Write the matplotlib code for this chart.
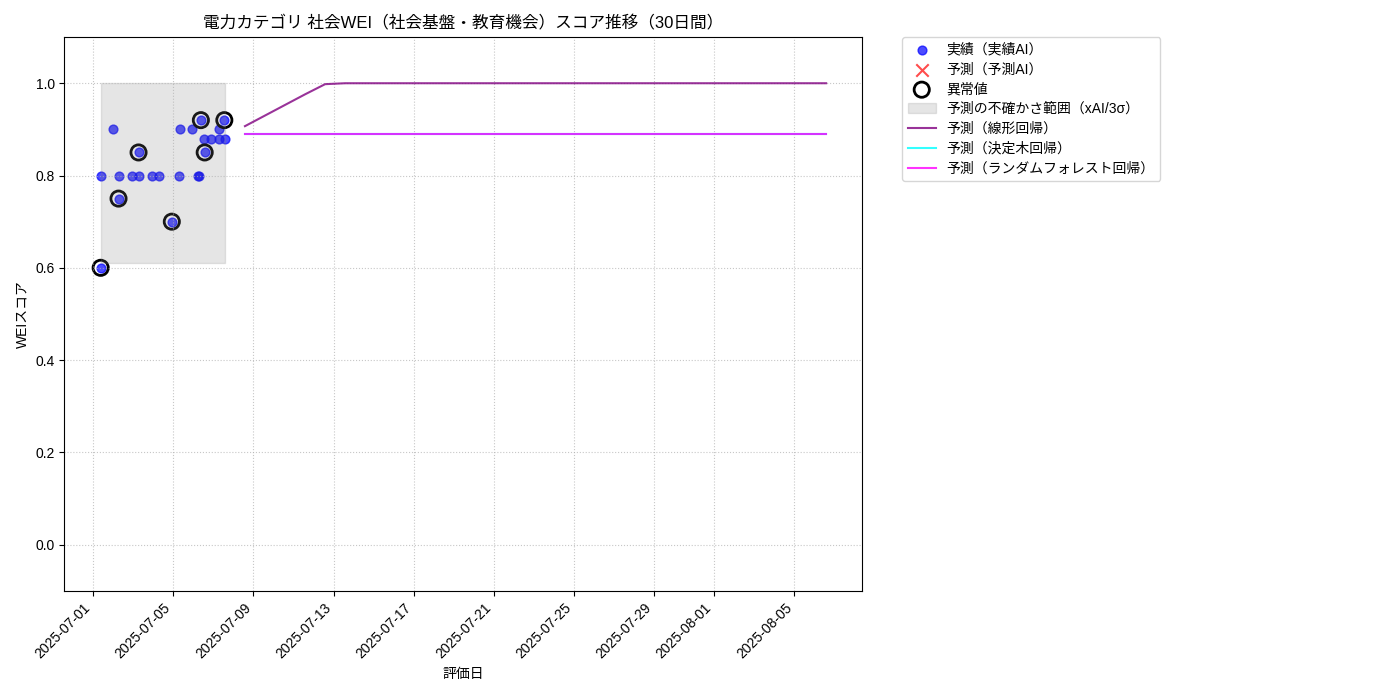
import matplotlib
matplotlib.use('Agg')
import matplotlib.pyplot as plt
import matplotlib.dates as mdates
import pandas as pd

plt.rcParams['font.family'] = ['Liberation Sans', 'Noto Sans CJK JP', 'DejaVu Sans']

# 実績データ
actual_dates = ['2025-07-01 09:07', '2025-07-01 10:05', '2025-07-01 23:17', '2025-07-02 06:29',
                '2025-07-02 06:30', '2025-07-02 22:48', '2025-07-03 06:29', '2025-07-03 06:43',
                '2025-07-03 22:19', '2025-07-04 06:29', '2025-07-04 22:19', '2025-07-05 06:29',
                '2025-07-05 07:41', '2025-07-05 22:48', '2025-07-06 06:00', '2025-07-06 07:12',
                '2025-07-06 09:07', '2025-07-06 12:43', '2025-07-06 13:41', '2025-07-06 21:07',
                '2025-07-07 06:29', '2025-07-07 06:30', '2025-07-07 13:12', '2025-07-07 13:55']
actual_scores = [0.60, 0.80, 0.90, 0.80,
                 0.75, 0.80, 0.85, 0.80,
                 0.80, 0.80, 0.70, 0.80,
                 0.90, 0.90, 0.80, 0.80,
                 0.92, 0.88, 0.85, 0.88,
                 0.90, 0.88, 0.92, 0.88]

# 異常値
outlier_dates = ['2025-07-01 09:07', '2025-07-02 06:30', '2025-07-03 06:29', '2025-07-04 22:19',
                 '2025-07-06 09:07', '2025-07-06 13:41', '2025-07-07 13:12']
outlier_scores = [0.60, 0.75, 0.85, 0.70, 0.92, 0.85, 0.92]

# 予測AI (なし)
pred_ai_dates = []
pred_ai_scores = []

# 不確かさ範囲
band_lower = 0.61
band_upper = 1.0

# 予測 (30日間)
linear_pred = [0.907, 0.930, 0.953, 0.976, 0.998] + [1.0] * 25
tree_pred = [0.89] * 30
rf_pred = [0.89] * 30

actual_dates = pd.to_datetime(actual_dates)
outlier_dates = pd.to_datetime(outlier_dates)
future_dates = pd.date_range(actual_dates[-1] + pd.Timedelta(days=1), periods=30, freq='D')

fig, ax = plt.subplots(figsize=(14, 7), dpi=100)
fig.subplots_adjust(left=0.046, right=0.616, top=0.947, bottom=0.156)

ax.scatter(actual_dates, actual_scores, color='blue', alpha=0.7, s=40, label='実績（実績AI）')
ax.scatter(pd.to_datetime(pred_ai_dates), pred_ai_scores, color='red', marker='x', alpha=0.7, s=80,
           label='予測（予測AI）')
ax.scatter(outlier_dates, outlier_scores, facecolors='none', edgecolors='black', s=120, linewidths=2,
           label='異常値')
ax.fill_between(actual_dates, band_lower, band_upper, color='gray', alpha=0.2,
                label='予測の不確かさ範囲（xAI/3σ）')
ax.plot(future_dates, linear_pred, color='purple', alpha=0.8, label='予測（線形回帰）')
ax.plot(future_dates, tree_pred, color='cyan', alpha=0.8, label='予測（決定木回帰）')
ax.plot(future_dates, rf_pred, color='magenta', alpha=0.8, label='予測（ランダムフォレスト回帰）')

ax.set_ylim(-0.1, 1.1)
ax.set_title('電力カテゴリ 社会WEI（社会基盤・教育機会）スコア推移（30日間）', fontsize=12)
ax.set_xlabel('評価日')
ax.set_ylabel('WEIスコア')
ax.grid(True, linestyle=':', alpha=0.7)
ax.xaxis.set_major_formatter(mdates.DateFormatter('%Y-%m-%d'))
plt.setp(ax.get_xticklabels(), rotation=45, ha='right')
ax.legend(bbox_to_anchor=(1.05, 1), loc='upper left', borderaxespad=0., labelspacing=0.42)

plt.savefig('out.png')
